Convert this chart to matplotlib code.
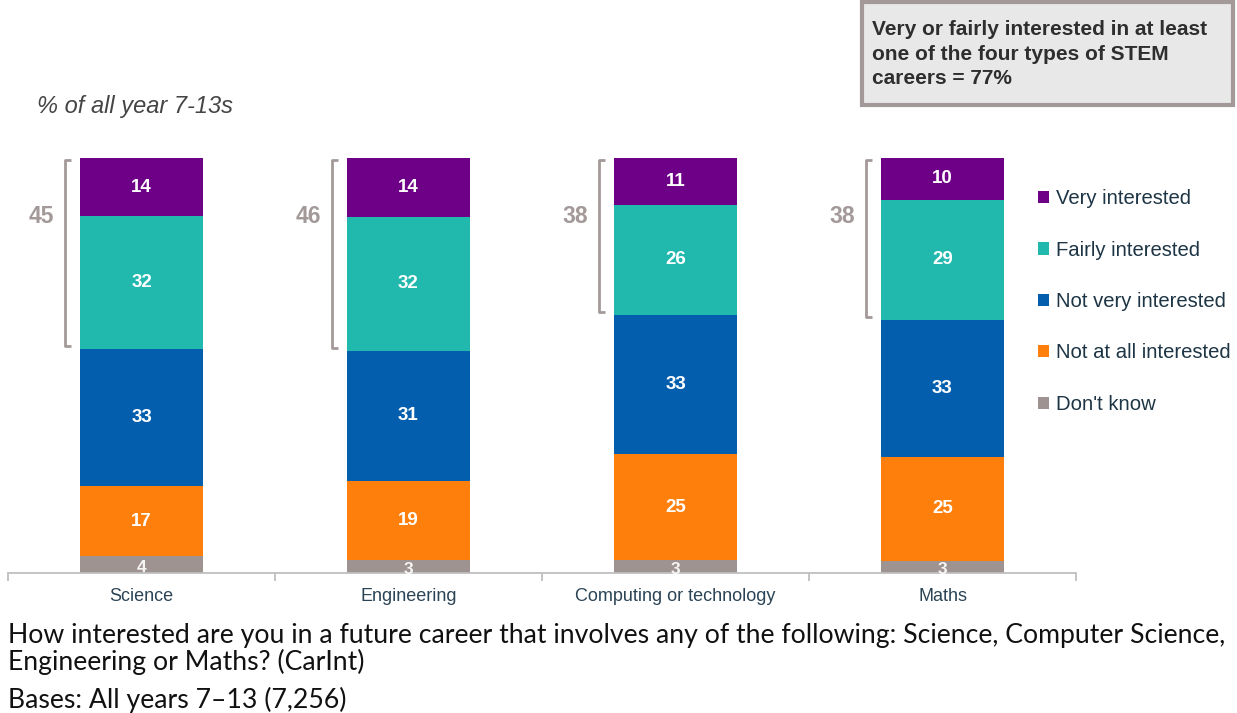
import numpy as np
import matplotlib.pyplot as plt
from matplotlib.patches import Patch, Rectangle

careers = ["Science", "Engineering", "Computing or technology", "Maths"]
dont_know = [4, 3, 3, 3]
not_at_all = [17, 19, 25, 25]
not_very = [33, 31, 33, 33]
fairly = [32, 32, 26, 29]
very = [14, 14, 11, 10]
interested_net = [45, 46, 38, 38]

series = [dont_know, not_at_all, not_very, fairly, very]
names = ["Don't know", "Not at all interested", "Not very interested",
         "Fairly interested", "Very interested"]
colors = ["#9f9391", "#fe7f0b", "#035fae", "#21b8ae", "#6e0087"]

plt.rcParams['font.family'] = ['Liberation Sans', 'DejaVu Sans']

fig = plt.figure(figsize=(12.37, 7.13), dpi=100)
ax = fig.add_axes([8 / 1237, 140 / 713, 1068 / 1237, 415 / 713])

data = np.array(series, dtype=float)
totals = data.sum(axis=0)
pct = data / totals * 100  # chart is drawn as 100% stacked

x = np.arange(len(careers))
width = 0.457
bottom = np.zeros(len(careers))
for vals, raw, col in zip(pct, data, colors):
    ax.bar(x, vals, width, bottom=bottom, color=col, edgecolor='none')
    for xi, v, b, r in zip(x, vals, bottom, raw):
        if r <= 4:
            ax.text(xi, b + v / 2 - 0.6, f"{int(r)}", ha='center', va='center',
                    color='white', fontsize=12.5, fontweight='bold', alpha=0.9)
        else:
            ax.text(xi, b + v / 2, f"{int(r)}", ha='center', va='center',
                    color='white', fontsize=13.5, fontweight='bold')
    bottom += vals

# brackets over very + fairly interested
grey = "#a39999"
top_group = pct[3] + pct[4]
for xi, g, net in zip(x, top_group, interested_net):
    bx = xi - width / 2 - 0.058
    y0, y1 = 100 - g + 0.7, 99.5
    ax.plot([bx + 0.022, bx, bx, bx + 0.022], [y0, y0, y1, y1],
            color=grey, lw=2, solid_capstyle='butt', clip_on=False)
    ax.text(bx - 0.04, 86, str(net), ha='right', va='center', color=grey,
            fontsize=16.5, fontweight='bold')

ax.set_xlim(-0.5, len(careers) - 0.5)
ax.set_ylim(0, 100)
for s in ['top', 'right', 'left']:
    ax.spines[s].set_visible(False)
ax.spines['bottom'].set_color('#bfbfbf')
ax.spines['bottom'].set_linewidth(1.3)
ax.set_yticks([])
ax.set_xticks(np.arange(-0.5, len(careers)))
ax.set_xticklabels([])
ax.tick_params(axis='x', length=6, color='#bfbfbf', width=1.3)
for xi, c in zip(x, careers):
    ax.text(xi, -3.6, c, ha='center', va='top', color='#2b4455', fontsize=13)

fig.text(37 / 1237, 1 - 107 / 713, "% of all year 7-13s", ha='left', va='center',
         fontsize=17, style='italic', color='#454545')

handles = [Patch(facecolor=c, edgecolor='none') for c in colors[::-1]]
fig.legend(handles, names[::-1], loc='upper left',
           bbox_to_anchor=(1028 / 1237, 1 - 179 / 713), frameon=False,
           fontsize=14.6, labelcolor='#1d3545', handlelength=0.55, handleheight=0.55,
           handletextpad=0.35, labelspacing=1.6, borderpad=0)

fig.patches.append(Rectangle((862 / 1237, 1 - 105 / 713), 371 / 1237, 103 / 713,
                             transform=fig.transFigure, facecolor='#e8e8e8',
                             edgecolor='#a39999', lw=3))
fig.text(872 / 1237, 1 - 54 / 713,
         "Very or fairly interested in at least\none of the four types of STEM\ncareers = 77%",
         ha='left', va='center', fontsize=15, fontweight='bold', color='#2e2e2e',
         linespacing=1.35)

fig.text(8 / 1237, 1 - 649 / 713,
         "How interested are you in a future career that involves any of the following: Science, Computer Science,\nEngineering or Maths? (CarInt)",
         ha='left', va='center', fontsize=19.2, color='#111111', family=['Lato', 'DejaVu Sans'],
         linespacing=1.05)
fig.text(8 / 1237, 1 - 700 / 713, "Bases: All years 7\u201313 (7,256)",
         ha='left', va='center', fontsize=19.2, color='#111111', family=['Lato', 'DejaVu Sans'])

fig.savefig("out.png", dpi=100)
